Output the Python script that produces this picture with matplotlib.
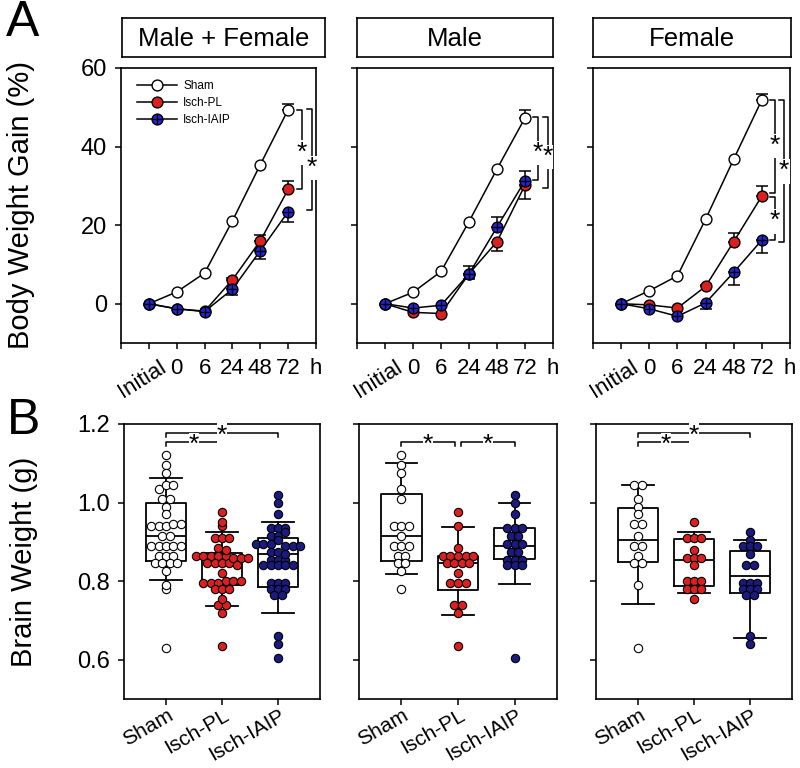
import numpy as np
import matplotlib
matplotlib.use("Agg")
import matplotlib.pyplot as plt
import matplotlib.transforms as mtransforms
from matplotlib.lines import Line2D
from matplotlib.legend_handler import HandlerTuple

plt.rcParams['font.family'] = ['Liberation Sans', 'DejaVu Sans']

panels = ['Male + Female', 'Male', 'Female']
groups = ['Sham', 'Isch-PL', 'Isch-IAIP']
time_labels = ['', 'Initial', '0', '6', '24', '48', '72', 'h']

# body weight gain (%), one list per panel (Male + Female, Male, Female)
sham_gain = [[0, 3.0, 7.8, 21.1, 35.4, 49.4],
             [0, 2.9, 8.2, 20.9, 34.3, 47.3],
             [0, 3.3, 7.1, 21.5, 36.8, 51.9]]
pl_gain = [[0, -1.3, -1.9, 6.1, 16.0, 29.1],
           [0, -2.2, -2.5, 7.6, 15.8, 30.2],
           [0, -0.3, -1.1, 4.4, 15.8, 27.4]]
iaip_gain = [[0, -1.3, -2.0, 3.7, 13.5, 23.4],
             [0, -1.1, -0.4, 7.6, 19.5, 31.3],
             [0, -1.3, -3.2, 0.2, 8.0, 16.2]]
# one-sided error bars (SEM) as drawn
sham_err_up = [[0, 0, 0, 0, 0, 1.4], [0, 0, 0, 0, 0, 2.1], [0, 0, 0, 0, 0, 1.4]]
pl_err_up = [[0, 0, 0, 0.5, 1.5, 2.1], [0, 0, 0, 0, 0, 0], [0, 0, 0, 0.3, 2.3, 2.5]]
pl_err_dn = [[0, 0, 0, 0, 0, 0], [0, 0, 0, 1.2, 2.5, 3.5], [0, 0, 0, 0, 0, 0]]
iaip_err_up = [[0, 0, 0, 0, 0, 0], [0, 0, 0, 1.9, 2.5, 2.5], [0, 0, 0, 0, 0, 0]]
iaip_err_dn = [[0, 0, 0, 1.4, 2.2, 2.5], [0, 0, 0, 0, 0, 0], [0, 0, 0, 1.5, 3.2, 3.4]]

# significance brackets in A: (panel, x, top, bottom, star y)
brackets_a = [(0, 5.5, 49.4, 29.3, 39.2), (0, 5.85, 49.6, 23.9, 35.3),
              (1, 5.46, 47.6, 31.5, 39.1), (1, 5.82, 47.6, 29.4, 38.1),
              (2, 5.46, 51.9, 28.3, 40.8), (2, 5.46, 27.2, 16.2, 21.7),
              (2, 5.79, 51.9, 15.8, 34.4)]

# brain weight (g), individual animals
male_sham = [1.12, 1.095, 1.075, 1.035, 1.01, 0.94, 0.94, 0.94, 0.915, 0.89, 0.89, 0.89,
             0.865, 0.865, 0.845, 0.845, 0.825, 0.78]
male_pl = [0.975, 0.94, 0.885, 0.865, 0.865, 0.865, 0.865, 0.865, 0.845, 0.845, 0.845, 0.845,
           0.82, 0.795, 0.795, 0.795, 0.74, 0.74, 0.72, 0.635]
male_iaip = [1.02, 1.0, 0.97, 0.935, 0.935, 0.935, 0.915, 0.915, 0.895, 0.895, 0.895,
             0.875, 0.875, 0.855, 0.855, 0.855, 0.84, 0.84, 0.84, 0.605]
female_sham = [1.045, 1.045, 1.01, 0.99, 0.97, 0.945, 0.945, 0.915, 0.89, 0.89, 0.865,
               0.845, 0.845, 0.79, 0.63]
female_pl = [0.95, 0.91, 0.91, 0.91, 0.88, 0.86, 0.86, 0.86, 0.84, 0.80, 0.80, 0.80,
             0.78, 0.78, 0.78, 0.755]
female_iaip = [0.925, 0.905, 0.89, 0.89, 0.89, 0.87, 0.84, 0.84, 0.795, 0.795, 0.795,
               0.78, 0.78, 0.78, 0.765, 0.765, 0.66, 0.64]

# box statistics as drawn (10th/25th/50th/75th/90th percentiles)
box_q1 = [[0.852, 0.789, 0.785], [0.852, 0.777, 0.857], [0.849, 0.787, 0.770]]
box_med = [[0.914, 0.860, 0.870], [0.916, 0.845, 0.890], [0.906, 0.853, 0.813]]
box_q3 = [[1.000, 0.872, 0.910], [1.021, 0.865, 0.935], [0.985, 0.907, 0.876]]
whis_lo = [[0.804, 0.738, 0.720], [0.817, 0.713, 0.792], [0.743, 0.769, 0.656]]
whis_hi = [[1.062, 0.925, 0.950], [1.101, 0.939, 1.000], [1.045, 0.926, 0.906]]

# significance brackets in B: (panel, from, to, height)
brackets_b = [(0, 0, 1, 1.154), (0, 0, 2, 1.178), (1, 0, 0.94, 1.154),
              (1, 1.06, 2, 1.154), (2, 0, 1, 1.154), (2, 0, 2, 1.178)]

RED = '#dc2020'
BLUE = '#2424e0'
NAVY = '#1a1a80'
DOT_STEP = 0.133


def dot_offsets(values, width):
    bins = np.floor(np.asarray(values) / width + 0.5)
    out = np.zeros(len(values))
    for b in np.unique(bins):
        idx = np.where(bins == b)[0]
        out[idx] = (np.arange(len(idx)) - (len(idx) - 1) / 2) * DOT_STEP
    return out


def style_axes(ax):
    for sp in ax.spines.values():
        sp.set_linewidth(1.2)
    ax.tick_params(direction='out', length=4, width=1.1, labelsize=17, pad=6)


fig = plt.figure(figsize=(8, 7.68), dpi=100)
shift = lambda dx, dy: mtransforms.ScaledTranslation(dx / 72, dy / 72, fig.dpi_scale_trans)


def star(ax, x, y):
    t = ax.text(x, y, '*', ha='center', va='center', fontsize=19, zorder=6,
                bbox=dict(fc='white', ec='none', pad=0.1), clip_on=False)
    t.set_transform(ax.transData + shift(0, -2))


# ---- panel A ----
a_left = [121, 357, 593]
a_width = [195, 196, 197]
box_left = [122, 357, 593]
box_width = [203, 196, 198]
x = np.arange(len(sham_gain[0]))
for i, name in enumerate(panels):
    ax = fig.add_axes([a_left[i] / 800, 1 - 343 / 768, a_width[i] / 800, 275 / 768])
    style_axes(ax)
    series = [(sham_gain[i], 'white', [0] * 6, sham_err_up[i], False),
              (pl_gain[i], RED, pl_err_dn[i], pl_err_up[i], False),
              (iaip_gain[i], BLUE, iaip_err_dn[i], iaip_err_up[i], True)]
    for y, fc, lo, hi, cross in series:
        y = np.array(y)
        lo = np.array(lo)
        hi = np.array(hi)
        m = (lo > 0) | (hi > 0)
        ax.errorbar(x[m], y[m], yerr=[lo[m], hi[m]], fmt='none', ecolor='k',
                    elinewidth=1.1, capsize=4, capthick=1.1, zorder=2)
        ax.plot(x, y, color='k', lw=1.1, marker='o', ms=7.8, mfc=fc, mec='k',
                mew=1.0, zorder=3)
        if cross:
            ax.plot(x, y, ls='none', marker='+', ms=7.8, mew=1.0, color='k', zorder=4)
    for p, bx, top, bot, sy in brackets_a:
        if p != i:
            continue
        ax.plot([bx - 0.17, bx, bx, bx - 0.17], [top, top, bot, bot], color='k',
                lw=1.1, clip_on=False, zorder=5)
        star(ax, bx, sy)
    ax.set_xlim(-1, 6)
    ax.set_ylim(-10, 60)
    ax.set_yticks([0, 20, 40, 60])
    ax.set_xticks(np.arange(-1, 7))
    ax.set_xticklabels(time_labels, fontsize=16)
    ax.tick_params(axis='x', pad=7)
    lab = ax.get_xticklabels()[1]
    lab.set_rotation(32)
    lab.set_rotation_mode('anchor')
    lab.set_ha('right')
    lab.set_va('top')
    lab.set_transform(lab.get_transform() + shift(7, 1))
    if i == 0:
        ax.set_ylabel('Body Weight Gain (%)', fontsize=21)
        ax.yaxis.set_label_coords(-0.44, 0.5)
        h_sham = Line2D([], [], color='k', lw=1.1, marker='o', ms=7.8, mfc='white', mec='k')
        h_pl = Line2D([], [], color='k', lw=1.1, marker='o', ms=7.8, mfc=RED, mec='k')
        h_ia = Line2D([], [], color='k', lw=1.1, marker='o', ms=7.8, mfc=BLUE, mec='k')
        h_cr = Line2D([], [], ls='none', marker='+', ms=7.8, mew=1.0, color='k')
        ax.legend([h_sham, h_pl, (h_ia, h_cr)], groups, loc='upper left',
                  bbox_to_anchor=(0.082, 0.955), frameon=False, fontsize=8.5,
                  handlelength=3.4, handletextpad=0.5, labelspacing=0.4,
                  borderpad=0, borderaxespad=0,
                  handler_map={tuple: HandlerTuple(ndivide=1)})
    else:
        ax.set_yticklabels([])
    tb = fig.add_axes([box_left[i] / 800, 1 - 57 / 768, box_width[i] / 800, 39 / 768])
    tb.set_xticks([])
    tb.set_yticks([])
    for sp in tb.spines.values():
        sp.set_linewidth(1.2)
    tb.text(0.5, 0.47, name, ha='center', va='center', fontsize=18.5, transform=tb.transAxes)

# ---- panel B ----
b_left = [124, 359, 596]
b_width = [196, 198, 196]
male = [male_sham, male_pl, male_iaip]
female = [female_sham, female_pl, female_iaip]
brain = [[m + f for m, f in zip(male, female)], male, female]
bin_width = [0.02, 0.005, 0.005]
dot_style = [dict(mfc='white'), dict(mfc=RED), dict(mfc=NAVY)]
pos = np.arange(len(groups))
for i in range(3):
    ax = fig.add_axes([b_left[i] / 800, 1 - 699 / 768, b_width[i] / 800, 275 / 768])
    style_axes(ax)
    stats = [dict(med=box_med[i][g], q1=box_q1[i][g], q3=box_q3[i][g],
                  whislo=whis_lo[i][g], whishi=whis_hi[i][g], fliers=[])
             for g in range(3)]
    lp = dict(color='k', lw=1.3)
    ax.bxp(stats, positions=pos, widths=0.72, capwidths=0.56, showfliers=False,
           boxprops=lp, whiskerprops=lp, capprops=lp, medianprops=lp, manage_ticks=False)
    for g in range(3):
        vals = np.array(brain[i][g])
        ax.plot(g + dot_offsets(vals, bin_width[i]), vals, ls='none', marker='o', ms=6,
                mec='k', mew=0.8, zorder=4, **dot_style[g])
    for p, x0, x1, yb in brackets_b:
        if p != i:
            continue
        ax.plot([x0, x0, x1, x1], [yb - 0.01, yb, yb, yb - 0.01], color='k', lw=1.1,
                zorder=5, clip_on=False)
        star(ax, (x0 + x1) / 2, yb)
    ax.set_xlim(-0.75, 2.75)
    ax.set_ylim(0.5, 1.2)
    ax.set_yticks([0.6, 0.8, 1.0, 1.2])
    ax.set_xticks(pos)
    ax.set_xticklabels(groups, fontsize=15, rotation=30, ha='right', va='center',
                       rotation_mode='anchor')
    ax.tick_params(axis='x', pad=7)
    for lab in ax.get_xticklabels():
        lab.set_transform(lab.get_transform() + shift(4, 0))
    if i == 0:
        ax.set_yticklabels(['0.6', '0.8', '1.0', '1.2'])
        ax.set_ylabel('Brain Weight (g)', fontsize=21)
        ax.yaxis.set_label_coords(-0.44, 0.5)
    else:
        ax.set_yticklabels([])

fig.text(0.008, 1.0, 'A', fontsize=36, va='top', ha='left')
fig.text(0.008, 1 - 398 / 768, 'B', fontsize=36, va='top', ha='left')

fig.savefig('out.png', dpi=100)
